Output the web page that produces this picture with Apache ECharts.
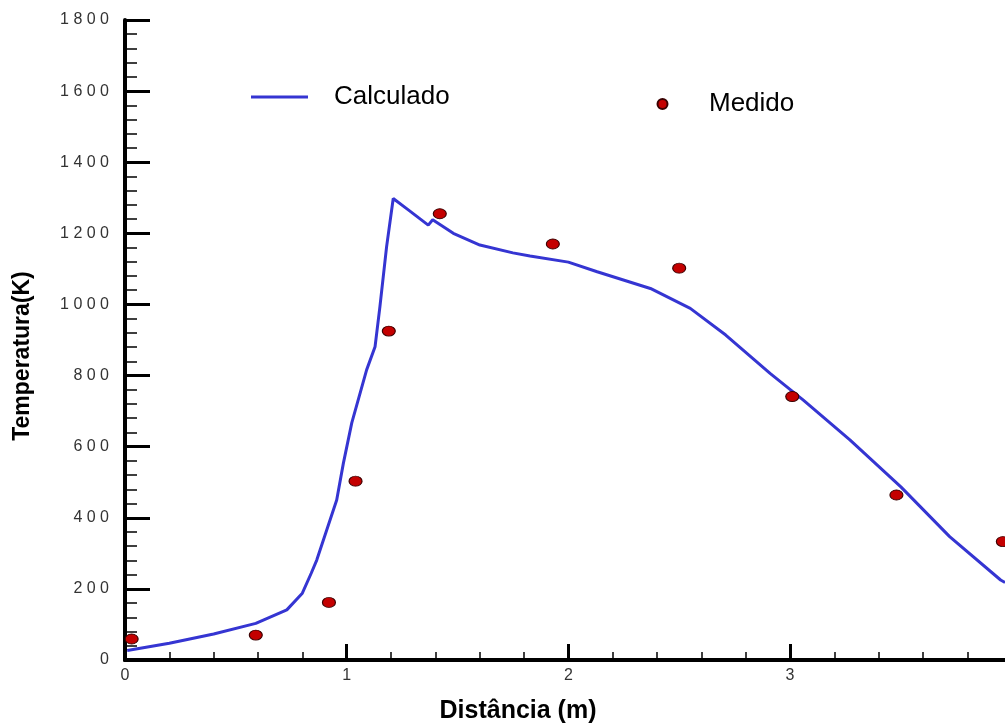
<!DOCTYPE html>
<html>
<head>
<meta charset="utf-8">
<script src="https://cdn.jsdelivr.net/npm/echarts@6/dist/echarts.min.js"></script>
<style>
html,body{margin:0;padding:0;background:#fff;overflow:hidden;width:1005px;height:724px;}
#chart{width:1030px;height:724px;}
</style>
</head>
<body>
<div id="chart"></div>
<script>
// Calculado (line)
const calcX = [0.01,0.20,0.40,0.59,0.73,0.80,0.84,0.865,0.955,0.985,1.023,1.090,1.128,1.150,1.180,1.210,1.278,1.368,1.388,1.481,1.601,1.750,1.827,2.00,2.13,2.37,2.55,2.71,2.91,3.06,3.27,3.50,3.72,3.95,3.97];
const calcY = [27,47,73,103,141,188,244,281,450,553,667,816,881,994,1162,1298,1266,1223,1238,1200,1167,1145,1136,1119,1092,1045,989,914,806,731,619,487,347,225,218];
// Medido (points)
const medX = [0.03,0.59,0.92,1.04,1.19,1.42,1.93,2.50,3.01,3.48,3.96];
const medY = [59,70,162,503,925,1255,1170,1102,741,464,333];
// Tick labels
const xTickLabels = ['0','1','2','3','4'];
const yTickLabels = ['0','200','400','600','800','1000','1200','1400','1600','1800'];

const FONT = '"Liberation Sans", Arial, sans-serif';
const chart = echarts.init(document.getElementById('chart'), null, {renderer:'canvas'});

const calcData = calcX.map((x,i)=>[x, calcY[i]]);
const medData = medX.map((x,i)=>[x, medY[i]]);

chart.setOption({
  animation:false,
  backgroundColor:'#fff',
  grid:{left:125, top:20, width:886.7, height:640, containLabel:false},
  xAxis:[{
    type:'value', min:0, max:4, interval:1,
    axisLine:{show:true, onZero:false, lineStyle:{color:'#000', width:4}},
    axisTick:{show:true, inside:true, length:16, lineStyle:{color:'#000', width:3}},
    minorTick:{show:true, splitNumber:5, length:8, lineStyle:{color:'#000', width:1.5}},
    splitLine:{show:false},
    axisLabel:{margin:8, color:'#333', fontSize:16, fontFamily:FONT,
      formatter:(v)=>xTickLabels[Math.round(v)]}
  },{
    type:'value', min:0, max:4, position:'top',
    axisLine:{show:true, lineStyle:{color:'#000', width:4}},
    axisTick:{show:false}, axisLabel:{show:false}, splitLine:{show:false}
  }],
  yAxis:{
    type:'value', min:0, max:1800, interval:200,
    axisLine:{show:true, onZero:false, lineStyle:{color:'#000', width:4}},
    axisTick:{show:true, inside:true, length:25, lineStyle:{color:'#000', width:3}},
    minorTick:{show:true, splitNumber:5, length:12, lineStyle:{color:'#000', width:1.5}},
    splitLine:{show:false},
    axisLabel:{margin:16, color:'#333', fontSize:16, fontFamily:FONT,
      formatter:(v)=>yTickLabels[Math.round(v/200)].split('').join(' ')}
  },
  legend:[{
    data:['Calculado'], left:246, top:79, icon:'rect',
    itemWidth:57, itemHeight:3, itemGap:10,
    textStyle:{fontSize:26, color:'#000', fontFamily:FONT, padding:[0,0,0,21]}
  },{
    data:['Medido'], left:651.5, top:86, icon:'circle',
    itemWidth:13, itemHeight:10,
    textStyle:{fontSize:26, color:'#000', fontFamily:FONT, padding:[0,0,0,35]}
  }],
  graphic:[{
    type:'text', x:23, y:356, rotation:Math.PI/2,
    style:{text:'Temperatura(K)', font:'bold 23px '+FONT, fill:'#000', align:'center', verticalAlign:'middle'}
  },{
    type:'text', x:518, y:711,
    style:{text:'Distância (m)', font:'bold 25px '+FONT, fill:'#000', align:'center', verticalAlign:'middle'}
  }],
  series:[{
    name:'Calculado', type:'line', data:calcData, showSymbol:false, smooth:false,
    lineStyle:{color:'#3535d2', width:3}, itemStyle:{color:'#3535d2'}, z:2
  },{
    name:'Medido', type:'scatter', data:medData, symbol:'circle', symbolSize:[13,10],
    itemStyle:{color:'#c40000', borderColor:'#3a0000', borderWidth:1, opacity:1}, z:3
  }]
});
</script>
</body>
</html>
